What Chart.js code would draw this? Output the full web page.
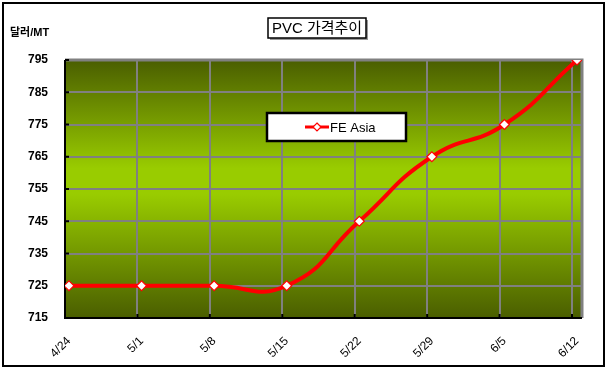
<!DOCTYPE html>
<html>
<head>
<meta charset="utf-8">
<script src="https://cdn.jsdelivr.net/npm/chart.js@4.4.0/dist/chart.umd.min.js"></script>
<style>
  html, body { margin: 0; padding: 0; background: #fff; }
</style>
</head>
<body>
<canvas id="priceChart" width="608" height="373"></canvas>
<script>
'use strict';

const dates = ['4/24', '5/1', '5/8', '5/15', '5/22', '5/29', '6/5', '6/12'];
const feAsia = [725, 725, 725, 725, 745, 765, 775, 795];
const seriesName = 'FE Asia';
const chartTitle = 'PVC 가격추이';
const yTitle = '달러/MT';

const ctx = document.getElementById('priceChart').getContext('2d');

// force one tick per date on the x axes
function dateTicks(scale) {
    scale.ticks = dates.map((d, i) => ({ value: i }));
}

// gradient plot background + frame, tick stubs
const plotDecor = {
    id: 'plotDecor',
    beforeDraw(chart) {
        const c = chart.ctx;
        const a = chart.chartArea;
        c.save();
        c.fillStyle = '#fff';
        c.fillRect(0, 0, chart.width, chart.height);
        const g = c.createLinearGradient(0, a.top, 0, a.bottom);
        g.addColorStop(0, '#4a5e00');
        g.addColorStop(0.42, '#99cc00');
        g.addColorStop(0.52, '#99cc00');
        g.addColorStop(1, '#4a5e00');
        c.fillStyle = g;
        c.fillRect(a.left, a.top, a.right - a.left, a.bottom - a.top);
        c.restore();
    },
    beforeDatasetsDraw(chart) {
        const c = chart.ctx;
        const a = chart.chartArea;
        c.save();
        // gray top / right frame
        c.strokeStyle = '#808080';
        c.lineWidth = 3;
        c.beginPath();
        c.moveTo(a.left, a.top);
        c.lineTo(a.right, a.top);
        c.lineTo(a.right, a.bottom);
        c.stroke();
        // black axis lines
        c.strokeStyle = '#000';
        c.lineWidth = 2;
        c.beginPath();
        c.moveTo(a.left, a.top);
        c.lineTo(a.left, a.bottom);
        c.lineTo(a.right, a.bottom);
        c.stroke();
        // tick stubs
        const xg = chart.scales.xg;
        const y = chart.scales.y;
        c.lineWidth = 2;
        c.beginPath();
        xg.ticks.forEach(t => {
            const px = xg.getPixelForValue(t.value);
            c.moveTo(px, a.bottom);
            c.lineTo(px, a.bottom - 4);
        });
        y.ticks.forEach(t => {
            const py = y.getPixelForValue(t.value);
            c.moveTo(a.left, py);
            c.lineTo(a.left + 4, py);
        });
        c.stroke();
        c.restore();
    },
    afterDraw(chart) {
        const c = chart.ctx;
        c.save();
        // outer border
        c.strokeStyle = '#000';
        c.lineWidth = 2;
        c.strokeRect(3, 3, 601, 363);

        // title box
        c.fillStyle = '#999';
        c.fillRect(270, 20, 98, 20);
        c.fillStyle = '#fff';
        c.fillRect(268, 18, 98, 20);
        c.lineWidth = 1.5;
        c.strokeRect(268, 18, 98, 20);
        c.fillStyle = '#000';
        c.font = '15px "Liberation Sans", "Noto Sans CJK KR", sans-serif';
        c.textAlign = 'center';
        c.textBaseline = 'middle';
        c.fillText(chartTitle, 317, 28.5);

        // y axis unit
        c.font = 'bold 11px "Liberation Sans", "Noto Sans CJK KR", sans-serif';
        c.textAlign = 'left';
        c.fillText(yTitle, 10, 33);

        // legend box
        c.fillStyle = '#fff';
        c.fillRect(267, 113, 139, 28);
        c.lineWidth = 2.5;
        c.strokeStyle = '#000';
        c.strokeRect(267, 113, 139, 28);
        c.strokeStyle = '#ff0000';
        c.lineWidth = 3;
        c.beginPath();
        c.moveTo(305, 127);
        c.lineTo(329, 127);
        c.stroke();
        c.fillStyle = '#fff';
        c.lineWidth = 1.2;
        c.beginPath();
        c.moveTo(317, 123);
        c.lineTo(321, 127);
        c.lineTo(317, 131);
        c.lineTo(313, 127);
        c.closePath();
        c.fill();
        c.stroke();
        c.fillStyle = '#000';
        c.font = '13px "Liberation Sans", sans-serif';
        c.textAlign = 'left';
        c.fillText(seriesName, 330, 128);
        c.restore();
    }
};

new Chart(ctx, {
    type: 'line',
    data: {
        datasets: [{
            label: seriesName,
            data: feAsia.map((v, i) => ({ x: i, y: v })),
            xAxisID: 'x',
            yAxisID: 'y',
            borderColor: '#ff0000',
            borderWidth: 4,
            tension: 0.5,
            pointStyle: 'rectRot',
            pointRadius: 5,
            pointBackgroundColor: '#fff',
            pointBorderColor: '#ff0000',
            pointBorderWidth: 1.2
        }]
    },
    options: {
        responsive: false,
        animation: false,
        layout: { padding: { top: 60, right: 26, bottom: 5, left: 0 } },
        plugins: {
            legend: { display: false },
            title: { display: false },
            tooltip: { enabled: false }
        },
        scales: {
            x: {
                type: 'linear',
                position: 'bottom',
                min: -0.055,
                max: 7.069,
                afterBuildTicks: dateTicks,
                afterFit: s => { s.height = 50; },
                grid: { display: false },
                border: { display: false },
                ticks: {
                    callback: v => dates[v],
                    minRotation: 45,
                    maxRotation: 45,
                    padding: 8,
                    color: '#000',
                    font: { family: '"Liberation Sans", sans-serif', size: 12 }
                }
            },
            xg: {
                type: 'linear',
                position: 'bottom',
                min: 0,
                max: 7.138,
                afterBuildTicks: dateTicks,
                afterFit: s => { s.height = 0; },
                border: { display: false },
                ticks: { display: false },
                grid: { color: '#808080', lineWidth: 2, drawTicks: false }
            },
            y: {
                min: 715,
                max: 795,
                afterFit: s => { s.width = 65; },
                border: { display: false },
                grid: { color: '#808080', lineWidth: 2, drawTicks: false },
                ticks: {
                    stepSize: 10,
                    padding: 17,
                    color: '#000',
                    font: { family: '"Liberation Sans", sans-serif', size: 12, weight: 'bold' }
                }
            }
        }
    },
    plugins: [plotDecor]
});
</script>
</body>
</html>
